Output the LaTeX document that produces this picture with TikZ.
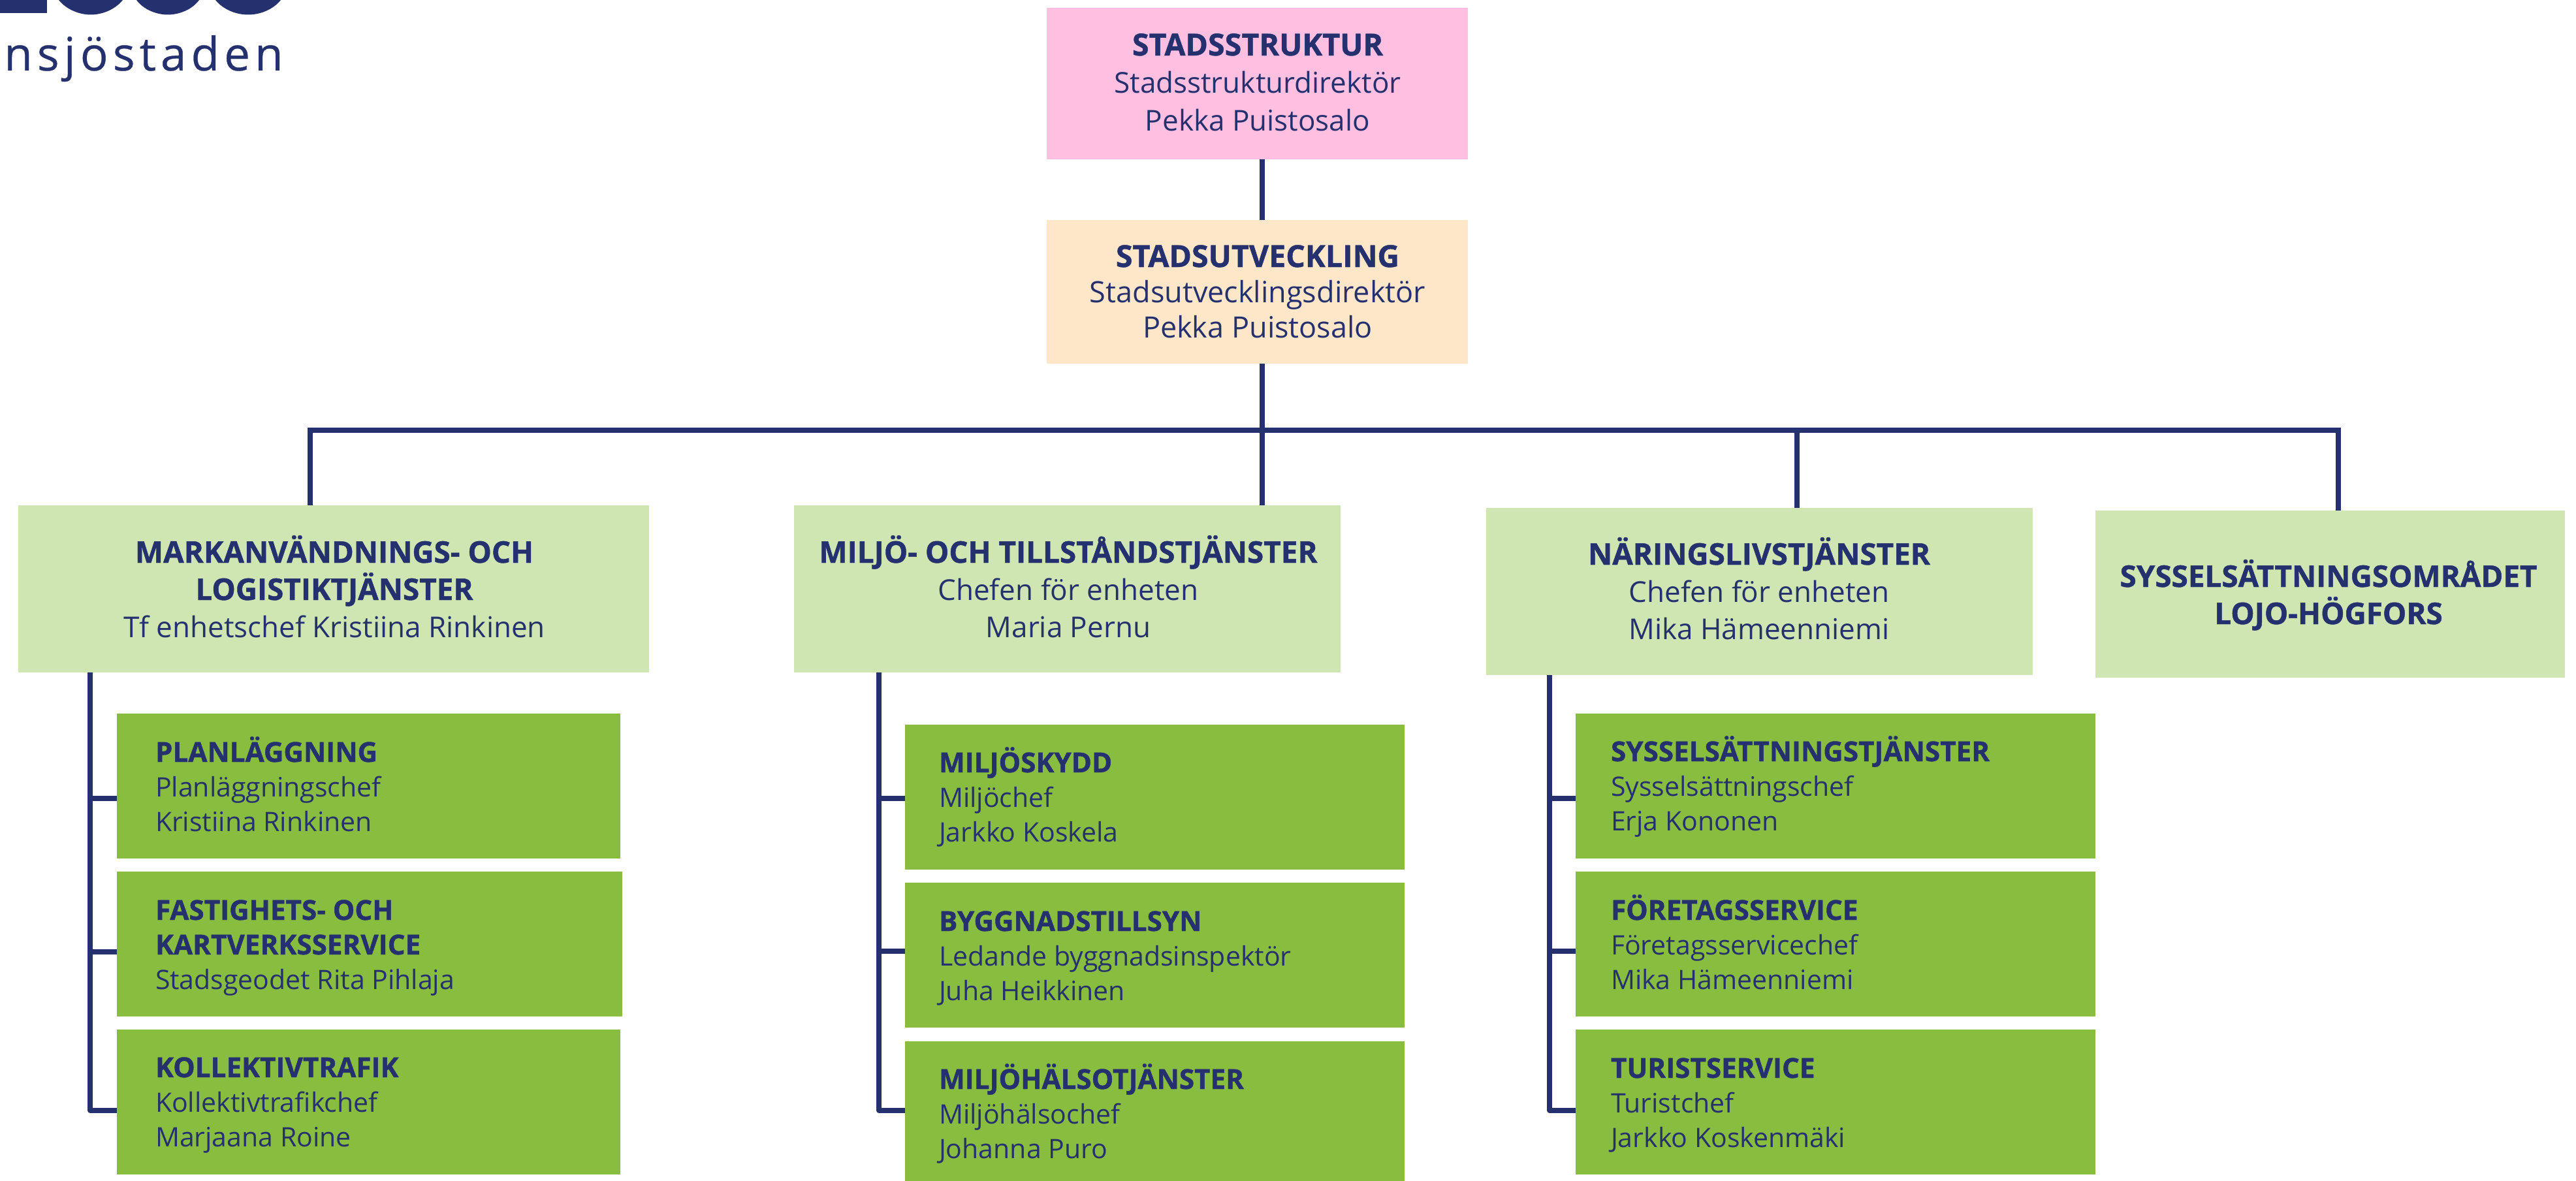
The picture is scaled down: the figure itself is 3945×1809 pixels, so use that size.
\documentclass[tikz,border=0pt]{standalone}
\usepackage{fontspec}
\setmainfont{Open Sans}[BoldFeatures={FakeBold=1.0}]
\definecolor{navy}{HTML}{25306F}
\definecolor{pinkbox}{HTML}{FFBFE0}
\definecolor{orangebox}{HTML}{FEE6C8}
\definecolor{lightgreen}{HTML}{CFE5B2}
\definecolor{midgreen}{HTML}{88BD3F}
\newcommand{\BB}[1]{{\fontsize{\bsize}{\the\baselineskip}\selectfont\bfseries #1}}
\newcommand{\FL}[1]{\rule{0pt}{60pt}\BB{#1}}
\newcommand{\orgrect}[6]{\node[#2,anchor=north west,minimum width=#5pt-#3pt,minimum height=#6pt-#4pt] (#1) at (#3,#4) {};}
\tikzset{
  box/.style={inner sep=0pt,outer sep=0pt,draw=none},
  pinkstyle/.style={box,fill=pinkbox},
  orangestyle/.style={box,fill=orangebox},
  unitstyle/.style={box,fill=lightgreen},
  teamstyle/.style={box,fill=midgreen},
  conn/.style={draw=navy,line width=8pt},
  conn2/.style={draw=navy,line width=7.5pt},
  ctext/.style={text=navy,inner sep=0pt,outer sep=0pt,align=center,anchor=north},
  ltext/.style={text=navy,inner sep=0pt,outer sep=0pt,align=left,anchor=north west},
  szA/.style={font=\def\bsize{45.8}\fontsize{44}{57}\selectfont},
  szB/.style={font=\def\bsize{46.6}\fontsize{45}{54}\selectfont},
  szC/.style={font=\def\bsize{46.6}\fontsize{44}{57.5}\selectfont},
  szD/.style={font=\def\bsize{42.2}\fontsize{41}{53}\selectfont},
}
\begin{document}
\begin{tikzpicture}[x=1pt,y=-1pt]
\useasboundingbox (0,0) rectangle (3945,1809);
% logo
\fill[navy] (0,0) rectangle (72,20);
\fill[navy] (90,0) .. controls (102,15) and (122,22.5) .. (139,22.5) .. controls (156,22.5) and (176,15) .. (188,0) -- cycle;
\fill[navy] (209,0) .. controls (220,15) and (240,22.5) .. (257,22.5) .. controls (274,22.5) and (294,15) .. (305,0) -- cycle;
\fill[navy] (330,0) .. controls (342,15) and (362,22.5) .. (380,22.5) .. controls (398,22.5) and (418,15) .. (430,0) -- cycle;
\node[text=navy,inner sep=0pt,anchor=base west,font=\fontsize{71}{80}\selectfont\addfontfeature{LetterSpace=10,FakeBold=0.4}] (logotext) at (6,108) {nsjöstaden};
% boxes
\orgrect{pink}{pinkstyle}{1603}{12}{2248}{244}
\orgrect{orange}{orangestyle}{1603}{337}{2248}{557}
\orgrect{ua}{unitstyle}{28}{774}{994}{1030}
\orgrect{ub}{unitstyle}{1216}{774}{2053}{1030}
\orgrect{uc}{unitstyle}{2276}{778}{3113}{1034}
\orgrect{ud}{unitstyle}{3209}{782}{3928}{1038}
\orgrect{a1}{teamstyle}{179}{1093}{950}{1315}
\orgrect{a2}{teamstyle}{179}{1335}{953}{1557}
\orgrect{a3}{teamstyle}{179}{1577}{950}{1799}
\orgrect{b1}{teamstyle}{1386}{1110}{2151}{1332}
\orgrect{b2}{teamstyle}{1386}{1352}{2151}{1574}
\orgrect{b3}{teamstyle}{1386}{1595}{2151}{1809}
\orgrect{c1}{teamstyle}{2413}{1093}{3209}{1315}
\orgrect{c2}{teamstyle}{2413}{1335}{3209}{1557}
\orgrect{c3}{teamstyle}{2413}{1577}{3209}{1799}
% texts (y = first baseline - 60)
\node[ctext,szC] (tpink) at (1926,25) {\FL{STADSSTRUKTUR}\\Stadsstrukturdirektör\\Pekka Puistosalo};
\node[ctext,szB] (torange) at (1926,349) {\FL{STADSUTVECKLING}\\Stadsutvecklingsdirektör\\Pekka Puistosalo};
\node[ctext,szA] (tua) at (512,802) {\FL{MARKANVÄNDNINGS- OCH}\\\BB{LOGISTIKTJÄNSTER}\\Tf enhetschef Kristiina Rinkinen};
\node[ctext,szA] (tub) at (1636,802) {\FL{MILJÖ- OCH TILLSTÅNDSTJÄNSTER}\\Chefen för enheten\\Maria Pernu};
\node[ctext,szA] (tuc) at (2694,805) {\FL{NÄRINGSLIVSTJÄNSTER}\\Chefen för enheten\\Mika Hämeenniemi};
\node[ctext,szA] (tud) at (3566,839) {\FL{SYSSELSÄTTNINGSOMRÅDET}\\\BB{LOJO-HÖGFORS}};
\node[ltext,szD] (ta1) at (238,1107) {\FL{PLANLÄGGNING}\\Planläggningschef\\Kristiina Rinkinen};
\node[ltext,szD] (ta2) at (238,1349) {\FL{FASTIGHETS- OCH}\\\BB{KARTVERKSSERVICE}\\Stadsgeodet Rita Pihlaja};
\node[ltext,szD] (ta3) at (238,1590) {\FL{KOLLEKTIVTRAFIK}\\Kollektivtrafikchef\\Marjaana Roine};
\node[ltext,szD] (tb1) at (1438,1123) {\FL{MILJÖSKYDD}\\Miljöchef\\Jarkko Koskela};
\node[ltext,szD] (tb2) at (1438,1366) {\FL{BYGGNADSTILLSYN}\\Ledande byggnadsinspektör\\Juha Heikkinen};
\node[ltext,szD] (tb3) at (1438,1608) {\FL{MILJÖHÄLSOTJÄNSTER}\\Miljöhälsochef\\Johanna Puro};
\node[ltext,szD] (tc1) at (2467,1106) {\FL{SYSSELSÄTTNINGSTJÄNSTER}\\Sysselsättningschef\\Erja Kononen};
\node[ltext,szD] (tc2) at (2467,1349) {\FL{FÖRETAGSSERVICE}\\Företagsservicechef\\Mika Hämeenniemi};
\node[ltext,szD] (tc3) at (2467,1591) {\FL{TURISTSERVICE}\\Turistchef\\Jarkko Koskenmäki};
% connectors
\coordinate (trunk) at (1933,659);
\coordinate (barL) at (475,659);
\coordinate (barM) at (2752,659);
\coordinate (barR) at (3581,659);
\draw[conn] (trunk |- pink.south) -- (trunk |- orange.north);
\draw[conn] (trunk |- orange.south) -- (trunk |- ub.north);
\draw[conn] ([xshift=-4pt]barL) -- ([xshift=4pt]barR);
\draw[conn] (barL) -- (barL |- ua.north);
\draw[conn] (barM) -- (barM |- uc.north);
\draw[conn] (barR) -- (barR |- ud.north);
\coordinate (sa) at (138,1701);
\coordinate (sb) at (1346,1701);
\coordinate (sc) at (2373,1701);
\draw[conn2,line join=round] (sa |- ua.south) -- (sa) -- (a3.west |- sa);
\draw[conn2] (sa |- 0,1223) -- ([yshift=-19pt]a1.west);
\draw[conn2] (sa |- 0,1458) -- ([yshift=-12pt]a2.west);
\draw[conn2,line join=round] (sb |- ub.south) -- (sb) -- (b3.west |- sb);
\draw[conn2] (sb |- 0,1223) -- ([yshift=-2pt]b1.west);
\draw[conn2] (sb |- 0,1457) -- ([yshift=6pt]b2.west);
\draw[conn2,line join=round] (sc |- uc.south) -- (sc) -- (c3.west |- sc);
\draw[conn2] (sc |- 0,1223) -- ([yshift=-19pt]c1.west);
\draw[conn2] (sc |- 0,1457) -- ([yshift=-11pt]c2.west);
\end{tikzpicture}
\end{document}
